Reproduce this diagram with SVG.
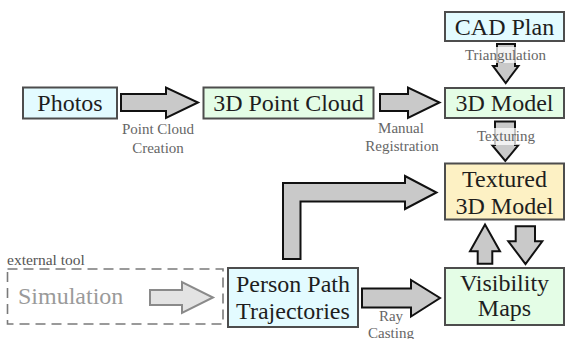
<svg xmlns="http://www.w3.org/2000/svg" width="566" height="339" viewBox="0 0 566 339">
<style>
.box{stroke:#4d4d4d;stroke-width:2}
.cyan{fill:#e3fbff}
.green{fill:#e4fde6}
.yellow{fill:#fdf1c4}
text{font-family:'Liberation Serif','Times New Roman',Times,serif}
.t{font-size:24px;fill:#1e1e1e;text-anchor:middle}
.lbl{font-size:15px;fill:#666;text-anchor:middle}
.arr{fill:#c9c9c9;stroke:#111;stroke-width:2;stroke-linejoin:miter}
.halo{fill:#fff;opacity:0.75}
</style>
<rect width="566" height="339" fill="#fff"/>

<g id="connectors">
  <polygon class="arr" points="121,94 166,94 166,87.5 198,102.5 166,118 166,111 121,111"/>
  <polygon class="arr" points="380,94 408,94 408,87.5 439.5,102.5 408,118 408,111 380,111"/>
  <polygon class="arr" points="362,288.5 411,288.5 411,280 440,298 411,316.5 411,307.5 362,307.5"/>
  <polygon class="arr" points="283,259 283,183 405,183 405,176 436.5,192.5 405,209 405,201.5 300.5,201.5 300.5,259"/>
  <polygon class="arr" points="497,44 515,44 515,66 518.5,66 505.7,83 493,66 497,66"/>
  <polygon class="arr" points="495,121.5 515,121.5 515,145 518.5,145 505.3,161 492,145 495,145"/>
  <polygon class="arr" points="485,224.5 500,251.3 492.3,251.3 492.3,263.7 477.7,263.7 477.7,251.3 470,251.3"/>
  <polygon class="arr" points="515.7,226.3 535,226.3 535,241.3 542.3,241.3 525.5,264 508.3,241.3 515.7,241.3"/>
  <polygon points="150,290 182,290 182,282 213,297.5 182,313 182,305 150,305" fill="#e3e3e3" stroke="#8a8a8a" stroke-width="2"/>
  <rect class="halo" x="463" y="47" width="85" height="16"/>
  <text class="lbl" x="505.5" y="59.5">Triangulation</text>
  <rect class="halo" x="474" y="128" width="64" height="17"/>
  <text class="lbl" x="506" y="141">Texturing</text>
  <text class="lbl" x="158" y="134">Point Cloud</text>
  <text class="lbl" x="158" y="153">Creation</text>
  <text class="lbl" x="401" y="133">Manual</text>
  <text class="lbl" x="402" y="151">Registration</text>
  <text class="lbl" x="391" y="320.5">Ray</text>
  <text class="lbl" x="391" y="337.5">Casting</text>
</g>

<g id="external">
  <rect x="7.5" y="269" width="215.5" height="55" fill="none" stroke="#7a7a7a" stroke-width="1.6" stroke-dasharray="10,6"/>
  <text x="7" y="265" font-size="15.5" fill="#555">external tool</text>
  <text x="18" y="303.5" font-size="24" fill="#9a9a9a">Simulation</text>
</g>

<g id="photos">
  <rect class="box cyan" x="23" y="87.5" width="94" height="31"/>
  <text class="t" x="70" y="110.5">Photos</text>
</g>
<g id="pointcloud">
  <rect class="box green" x="203.5" y="87.5" width="170" height="31"/>
  <text class="t" x="288.5" y="110.5">3D Point Cloud</text>
</g>
<g id="cadplan">
  <rect class="box cyan" x="445" y="12" width="119" height="29"/>
  <text class="t" x="504.5" y="34.5">CAD Plan</text>
</g>
<g id="model">
  <rect class="box green" x="445" y="88" width="119" height="30"/>
  <text class="t" x="504.5" y="111">3D Model</text>
</g>
<g id="textured">
  <rect class="box yellow" x="445" y="163.5" width="119" height="56"/>
  <text class="t" x="504.5" y="187">Textured</text>
  <text class="t" x="504.5" y="213.5">3D Model</text>
</g>
<g id="person">
  <rect class="box cyan" x="228" y="268" width="130" height="59"/>
  <text class="t" x="293" y="292">Person Path</text>
  <text class="t" x="293" y="318.5">Trajectories</text>
</g>
<g id="visibility">
  <rect class="box green" x="445" y="268" width="119" height="57"/>
  <text class="t" x="504.5" y="290.5">Visibility</text>
  <text class="t" x="504.5" y="316">Maps</text>
</g>
</svg>
